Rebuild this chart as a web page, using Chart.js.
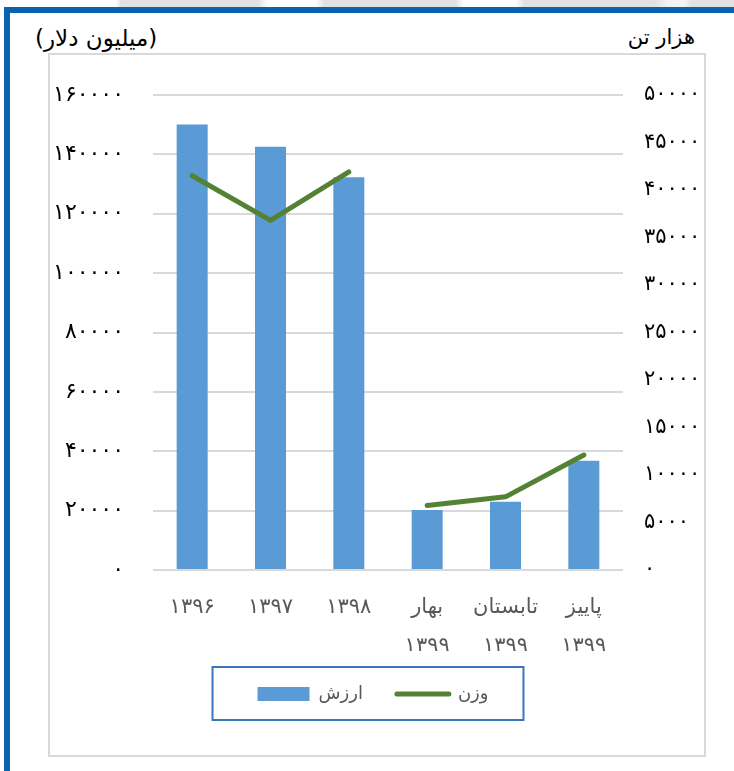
<!DOCTYPE html>
<html lang="fa">
<head>
<meta charset="utf-8">
<script src="https://cdn.jsdelivr.net/npm/chart.js@4.4.1/dist/chart.umd.min.js"></script>
<style>
html,body{margin:0;padding:0;background:#fff;}
#wrap{position:relative;width:734px;height:771px;overflow:hidden;background:#fff;}
#strip{position:absolute;left:0;top:0;width:734px;height:7px;
 background:linear-gradient(to right,#fff 0,#fff 116px,#e2e2e2 121px,#e2e2e2 258px,#fff 268px,#fff 316px,#e2e2e2 324px,#e2e2e2 456px,#fff 464px,#fff 516px,#e2e2e2 524px,#e2e2e2 655px,#f3f3f3 668px,#f3f3f3 684px,#e2e2e2 692px);}
#topband{position:absolute;left:4px;top:7px;width:730px;height:6px;background:#0a63ae;}
#leftband{position:absolute;left:4px;top:7px;width:6px;height:764px;background:#0a63ae;}
#box{position:absolute;left:48px;top:53px;width:658px;height:704px;box-sizing:border-box;border:2px solid #d9d9d9;}
.ttl{position:absolute;font-family:"DejaVu Sans",sans-serif;font-size:23px;color:#000;direction:rtl;white-space:nowrap;line-height:28px;font-weight:normal;}
#tl{left:35px;top:24px;}
#tr{right:39px;top:23px;font-size:21px;}
#c{position:absolute;left:0;top:0;}
</style>
</head>
<body>
<div id="wrap">
  <div id="strip"></div>
  <div id="topband"></div>
  <div id="leftband"></div>
  <div id="box"></div>
  <div class="ttl" id="tl">(میلیون دلار)</div>
  <div class="ttl" id="tr">هزار تن</div>
  <canvas id="c" width="734" height="771"></canvas>
</div>
<script>
// ---- data ----
const categories = ['۱۳۹۶', '۱۳۹۷', '۱۳۹۸', ['بهار', '۱۳۹۹'], ['تابستان', '۱۳۹۹'], ['پاییز', '۱۳۹۹']];
const periodGroup = ['year', 'year', 'year', 'season', 'season', 'season'];
const valueMillionUSD = [150100, 142600, 132300, 20200, 23000, 36800];
const weightThousandTon = [41500, 36800, 41900, 6800, 7700, 12100];
const seriesNames = ['ارزش', 'وزن'];
const leftAxisMin = 0, leftAxisMax = 160000, leftAxisStep = 20000;
const rightAxisMin = 0, rightAxisMax = 50000, rightAxisStep = 5000;
const persianDigits = ['۰','۱','۲','۳','۴','۵','۶','۷','۸','۹'];

const toFa = v => String(v).replace(/\d/g, d => persianDigits[+d]);
const FONT = '"DejaVu Sans",sans-serif';

const legendBorder = {
  id: 'legendBorder',
  afterDraw(chart) {
    const lg = chart.legend;
    if (!lg || !lg.legendHitBoxes || !lg.legendHitBoxes.length) return;
    const hb = lg.legendHitBoxes;
    const l = Math.min(...hb.map(h => h.left));
    const r = Math.max(...hb.map(h => h.left + h.width));
    const cy = hb[0].top + hb[0].height / 2;
    const ctx = chart.ctx;
    ctx.save();
    ctx.strokeStyle = '#3a77bd';
    ctx.lineWidth = 2;
    ctx.strokeRect(l - 45, cy - 27, (r + 35) - (l - 45), 53);
    ctx.restore();
  }
};

new Chart(document.getElementById('c'), {
  data: {
    labels: categories,
    datasets: [
      {
        type: 'bar',
        label: seriesNames[0],
        data: valueMillionUSD,
        yAxisID: 'y',
        backgroundColor: '#5b9bd5',
        borderWidth: 0,
        categoryPercentage: 0.8,
        barPercentage: 0.495,
        pointStyle: 'rect',
        order: 1
      },
      {
        type: 'line',
        label: seriesNames[1],
        data: weightThousandTon,
        yAxisID: 'y1',
        borderColor: '#548235',
        backgroundColor: '#548235',
        borderWidth: 5,
        borderCapStyle: 'round',
        borderJoinStyle: 'round',
        pointRadius: 0,
        pointHoverRadius: 0,
        pointStyle: 'line',
        pointBorderColor: '#548235',
        pointBorderWidth: 5,
        tension: 0,
        segment: {
          borderColor: c => periodGroup[c.p0DataIndex] !== periodGroup[c.p1DataIndex] ? 'rgba(0,0,0,0)' : undefined
        },
        order: 0
      }
    ]
  },
  options: {
    responsive: false,
    devicePixelRatio: 1,
    animation: false,
    layout: { padding: { left: 20, right: 8, top: 95, bottom: 58 } },
    plugins: {
      tooltip: { enabled: false },
      legend: {
        position: 'bottom',
        reverse: true,
        labels: {
          usePointStyle: true,
          pointStyleWidth: 52,
          boxHeight: 14,
          padding: 34,
          color: '#595959',
          font: { family: FONT, size: 18 },
          generateLabels(chart) {
            return Chart.defaults.plugins.legend.labels.generateLabels(chart)
              .map(it => Object.assign(it, { lineCap: 'round' }));
          }
        }
      }
    },
    scales: {
      x: {
        grid: { display: false, drawTicks: false },
        border: { display: false },
        ticks: {
          color: '#595959',
          font: { family: FONT, size: 21, lineHeight: 1.85 },
          padding: 18,
          maxRotation: 0,
          autoSkip: false
        },
        afterFit(s) { s.height = 81; }
      },
      y: {
        position: 'left',
        min: leftAxisMin,
        max: leftAxisMax,
        grid: { color: '#d9d9d9', lineWidth: 2, drawTicks: false },
        border: { display: false },
        ticks: {
          stepSize: leftAxisStep,
          color: '#000',
          font: { family: FONT, size: 22 },
          padding: 29,
          callback: v => toFa(v)
        },
        afterFit(s) { s.width = 133; }
      },
      y1: {
        position: 'right',
        min: rightAxisMin,
        max: rightAxisMax,
        grid: { display: false, drawOnChartArea: false, drawTicks: false },
        border: { display: false },
        ticks: {
          stepSize: rightAxisStep,
          color: '#000',
          font: { family: FONT, size: 21 },
          padding: 21,
          callback: v => toFa(v)
        },
        afterFit(s) { s.width = 103; }
      }
    }
  },
  plugins: [legendBorder]
});
</script>
</body>
</html>
